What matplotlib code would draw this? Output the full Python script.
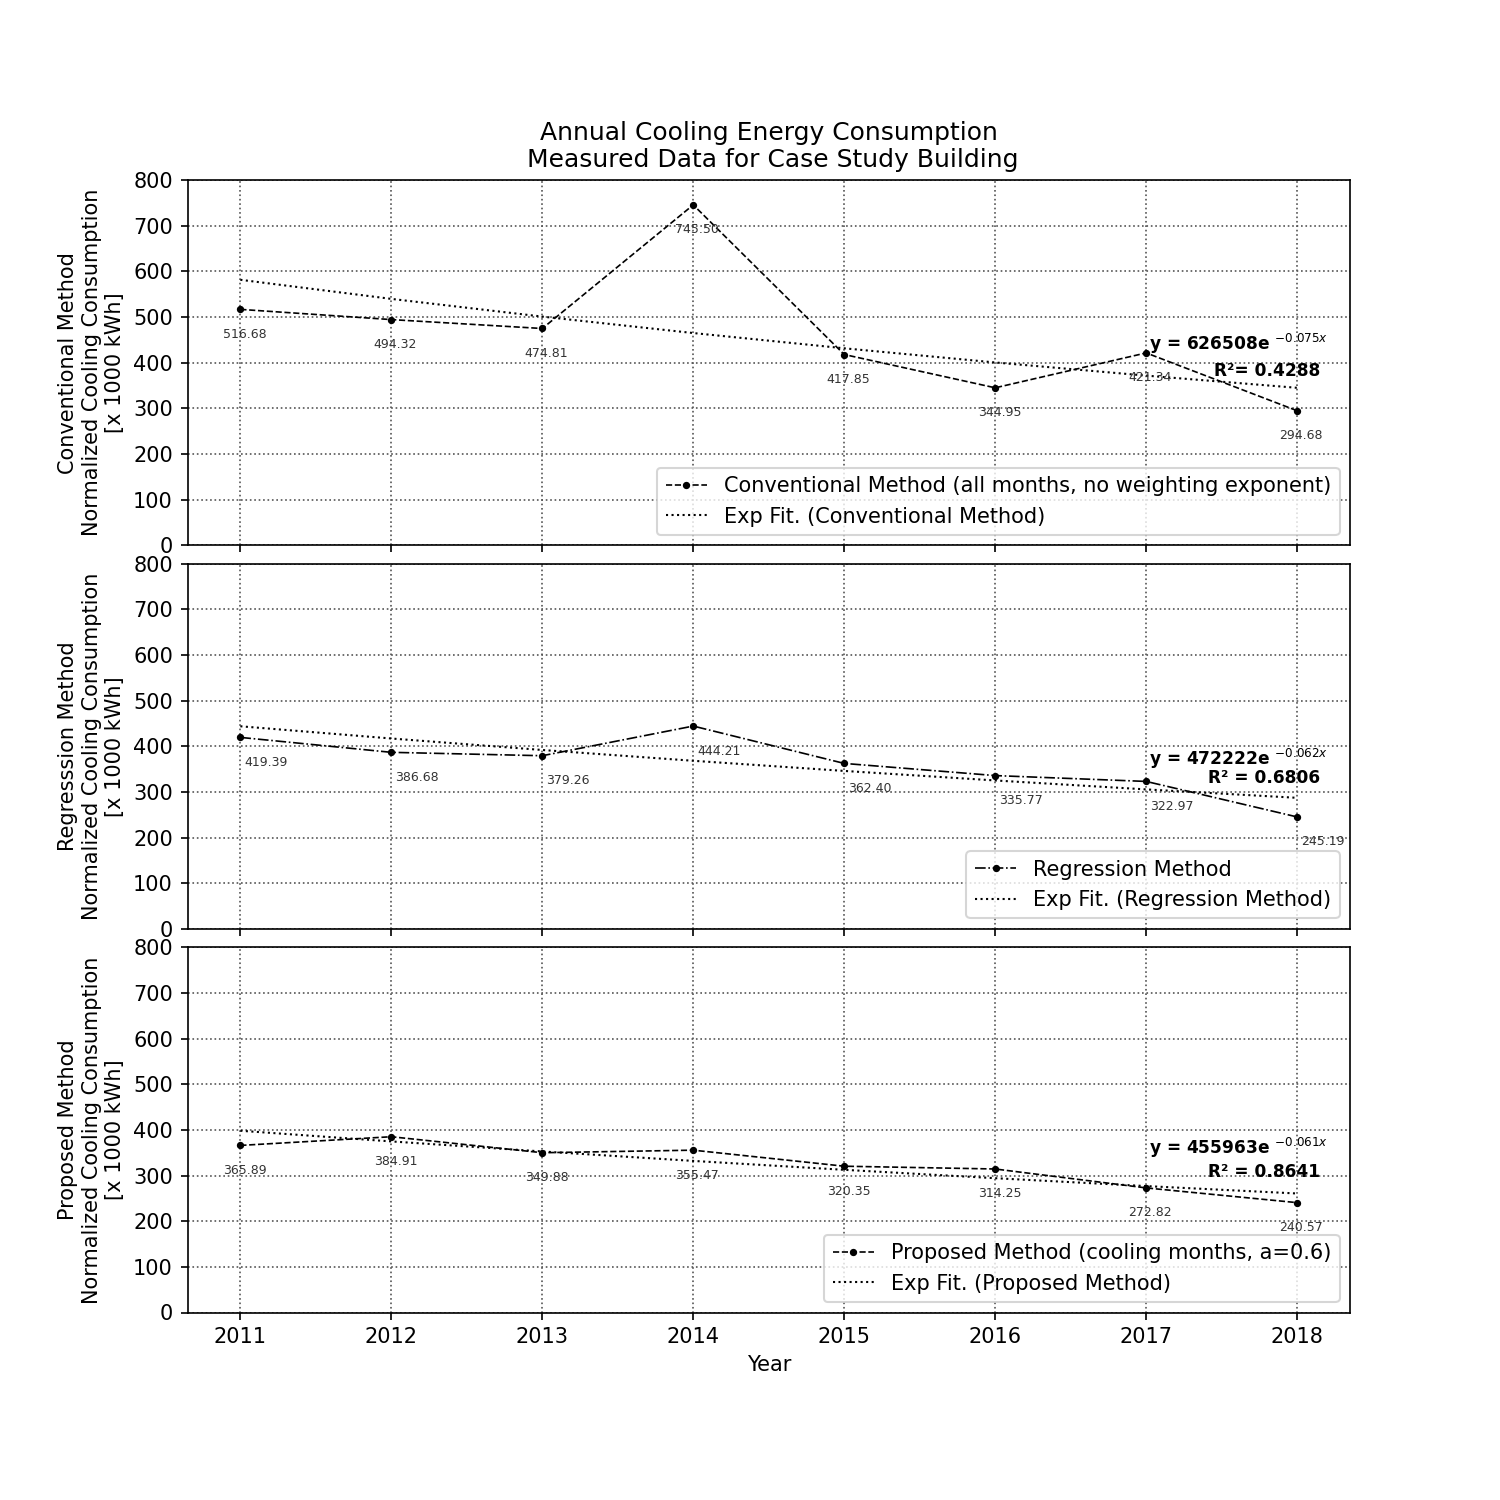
"""Annual cooling energy consumption - three methods with exponential fits"""
import matplotlib
matplotlib.use("Agg")
import matplotlib.pyplot as plt
import numpy as np

# ── data ──
years = [2011, 2012, 2013, 2014, 2015, 2016, 2017, 2018]
conventional = [516.68, 494.32, 474.81, 745.50, 417.85, 344.95, 421.34, 294.68]
regression = [419.39, 386.68, 379.26, 444.21, 362.40, 335.77, 322.97, 245.19]
proposed = [365.89, 384.91, 349.88, 355.47, 320.35, 314.25, 272.82, 240.57]

series_labels = ["Conventional Method (all months, no weighting exponent)",
                 "Regression Method",
                 "Proposed Method (cooling months, a=0.6)"]
fit_labels = ["Exp Fit. (Conventional Method)",
              "Exp Fit. (Regression Method)",
              "Exp Fit. (Proposed Method)"]
ylabel_names = ["Conventional Method", "Regresssion Method", "Proposed Method"]
eq_texts = ["y = 626508e $^{-0.075x}$", "y = 472222e $^{-0.062x}$", "y = 455963e $^{-0.061x}$"]
r2_texts = ["R²= 0.4288", "R² = 0.6806", "R² = 0.8641"]

# styles
linestyles = ["--", "-.", "--"]
label_ha = ["center", "left", "center"]
eq_pos = [(2017.02, 442, 381), (2017.02, 373, 331), (2017.02, 360, 307)]

fig, axes = plt.subplots(3, 1, figsize=(10, 10), dpi=150, sharex=True)
plt.subplots_adjust(left=0.125, right=0.9, top=0.88, bottom=0.125, hspace=0.05)

x_idx = np.arange(1, len(years) + 1)
for i, (ax, vals) in enumerate(zip(axes, [conventional, regression, proposed])):
    ax.plot(years, vals, linestyle=linestyles[i], marker="o", color="k",
            markersize=2.5, linewidth=0.8, label=series_labels[i])
    # exponential fit (log-linear least squares)
    b, ln_a = np.polyfit(x_idx, np.log(vals), 1)
    fit = np.exp(ln_a) * np.exp(b * x_idx)
    ax.plot(years, fit, linestyle=":", color="k", linewidth=1.0, label=fit_labels[i])

    # value labels
    for xv, yv in zip(years, vals):
        ax.annotate(f"{yv:.2f}", (xv, yv), textcoords="offset points",
                    xytext=(2, -12), ha=label_ha[i], va="center",
                    fontsize=6, color="#333333")

    ex, ey, ry = eq_pos[i]
    ax.text(ex, ey, eq_texts[i], fontsize=8.2, fontweight="bold", ha="left", va="center")
    ax.text(2018.15, ry, r2_texts[i], fontsize=8.2, fontweight="bold", ha="right", va="center")

    ax.set_ylim(0, 800)
    ax.set_yticks(range(0, 801, 100))
    ax.grid(True, linestyle=":", color="#555555", linewidth=0.8)
    ax.set_ylabel(f"{ylabel_names[i]}\nNormalized Cooling Consumption\n[x 1000 kWh]", fontsize=10)
    ax.legend(loc="lower right", fontsize=10)

axes[-1].set_xticks(years)
axes[-1].set_xlabel("Year")
axes[0].set_title("Annual Cooling Energy Consumption\n Measured Data for Case Study Building", fontsize=12)

plt.savefig("out.png", dpi=150)
plt.close()
